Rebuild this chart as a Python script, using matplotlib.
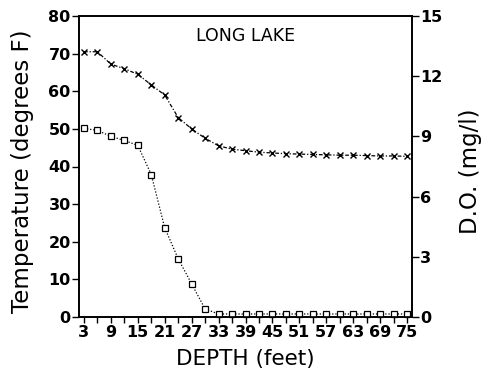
import matplotlib
matplotlib.use("Agg")
import matplotlib.pyplot as plt

plt.rcParams['font.family'] = ['DejaVu Sans']

depth = [3, 6, 9, 12, 15, 18, 21, 24, 27, 30, 33, 36, 39, 42, 45, 48, 51, 54, 57, 60, 63, 66, 69, 72, 75]
temperature = [70.5, 70.5, 67.2, 66.0, 64.5, 61.7, 59.0, 53.0, 50.0, 47.5, 45.5, 44.6, 44.2, 43.8,
               43.6, 43.4, 43.3, 43.2, 43.1, 43.0, 43.0, 42.9, 42.8, 42.8, 42.7]
dissolved_oxygen = [9.4, 9.3, 9.0, 8.8, 8.55, 7.1, 4.45, 2.9, 1.65, 0.4, 0.15, 0.15, 0.15, 0.15,
                    0.15, 0.15, 0.15, 0.15, 0.15, 0.15, 0.15, 0.15, 0.15, 0.15, 0.15]
xtick_labels = [3, 9, 15, 21, 27, 33, 39, 45, 51, 57, 63, 69, 75]
temp_ticks = [0, 10, 20, 30, 40, 50, 60, 70, 80]
do_ticks = [0, 3, 6, 9, 12, 15]

fig = plt.figure(figsize=(4.84, 3.69), dpi=100)
ax = fig.add_axes([79 / 484, 52 / 369, 333 / 484, 301 / 369])
ax2 = ax.twinx()

ax.plot(depth, temperature, linestyle=(0, (3, 1.5, 1, 1.5)), color='black', linewidth=0.9,
        marker='x', markersize=4, markeredgewidth=1.0, clip_on=False)
ax2.plot(depth, dissolved_oxygen, linestyle=(0, (1, 1.5)), color='black', linewidth=0.9,
         marker='s', markersize=4, markerfacecolor='white', markeredgecolor='black',
         markeredgewidth=0.9, clip_on=False)

ax.set_xlim(1.9, 76.1)
ax.set_ylim(0, 80)
ax2.set_ylim(0, 15)

ax.set_xticks(depth, minor=True)
ax.set_xticks(xtick_labels)
ax.set_xticklabels([str(v) for v in xtick_labels])
ax.set_yticks(temp_ticks)
ax2.set_yticks(do_ticks)

for a in (ax, ax2):
    for s in a.spines.values():
        s.set_linewidth(1.2)
ax.tick_params(axis='x', which='both', direction='out', length=4, width=1.0, labelsize=11.5, pad=1.5)
ax.tick_params(axis='y', direction='out', length=5, width=1.0, labelsize=11.5, pad=1)
ax2.tick_params(axis='y', direction='out', length=5, width=1.0, labelsize=11.5, pad=1)
for lab in ax.get_xticklabels() + ax.get_yticklabels() + ax2.get_yticklabels():
    lab.set_fontweight('bold')

ax.set_xlabel('DEPTH (feet)', fontsize=15.5)
ax.xaxis.set_label_coords(0.5, -0.106)
ax.xaxis.label.set_va('top')

ax.set_ylabel('Temperature (degrees F)', fontsize=16.5)
ax.yaxis.set_label_coords(-0.171, 0.485)
ax.yaxis.label.set_va('center')

ax2.set_ylabel('D.O. (mg/l)', fontsize=16.5)
ax2.yaxis.set_label_coords(1.177, 0.485)
ax2.yaxis.label.set_va('center')

ax.text(0.5, 0.935, 'LONG LAKE', transform=ax.transAxes, ha='center', va='center', fontsize=12.5)

fig.savefig('out.png', dpi=100)
